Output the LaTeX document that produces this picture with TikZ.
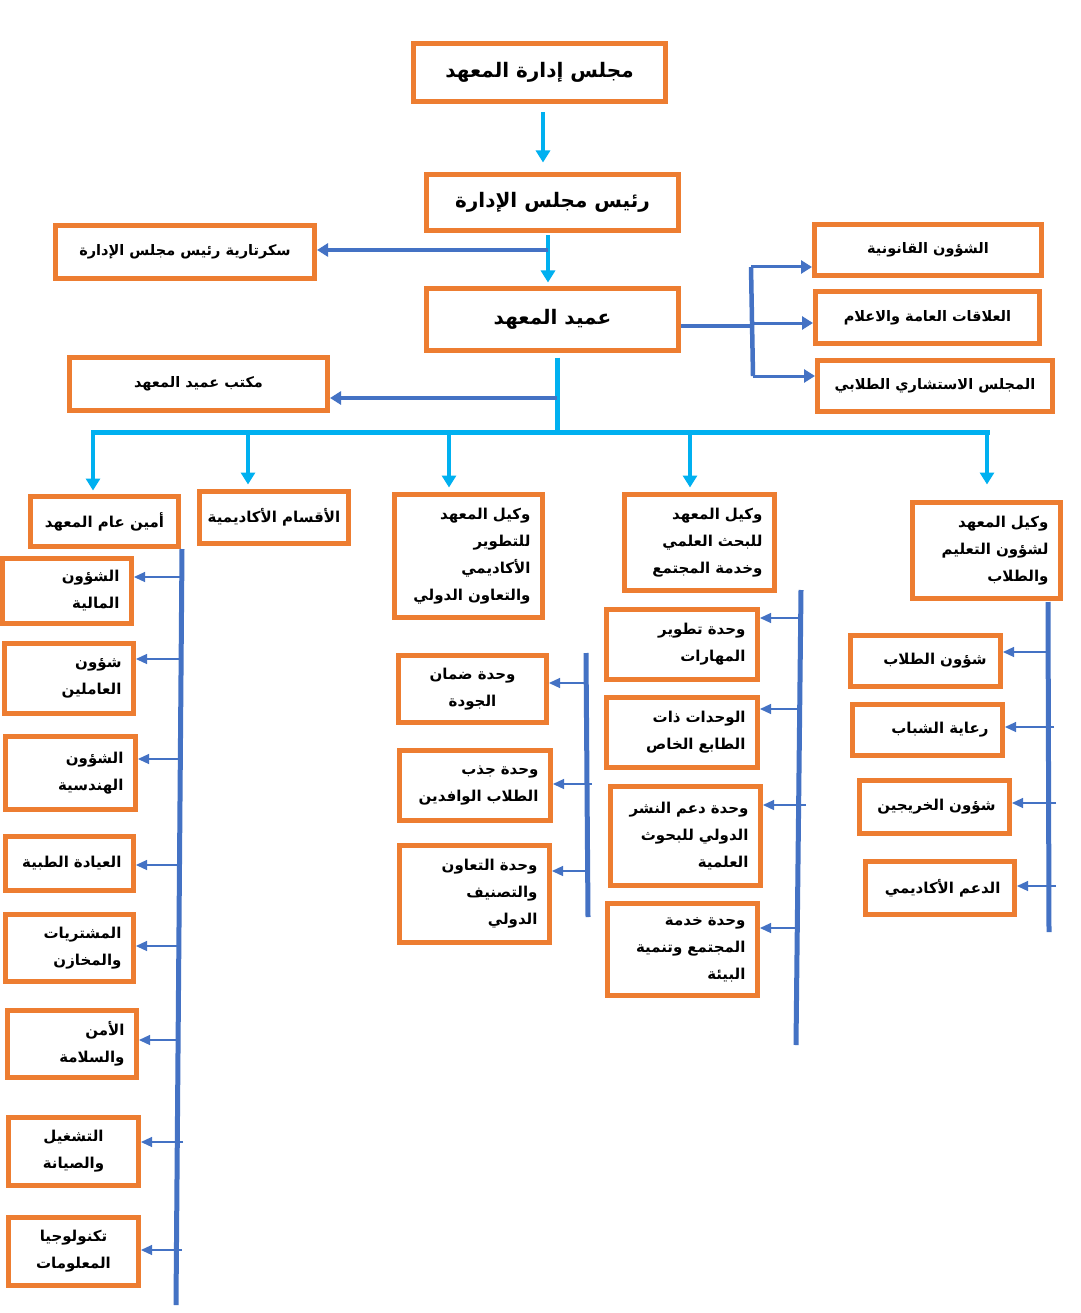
\documentclass[tikz,border=0pt]{standalone}
\usepackage{fontspec}
\newfontfamily\arabicfont[Script=Arabic]{DejaVu Sans}
\TeXXeTstate=1
\usetikzlibrary{arrows.meta}
\definecolor{org}{HTML}{ED7D31}
\definecolor{blu}{HTML}{4472C4}
\definecolor{cyn}{HTML}{00B0F0}
\newcommand\AR[1]{\beginR#1\endR}
\tikzset{
 ob/.style={draw=org, line width=5pt, fill=white, inner sep=0pt, font=\arabicfont\bfseries\fontsize{15}{27}\selectfont},
 big/.style={font=\arabicfont\bfseries\fontsize{20}{24}\selectfont},
 mid/.style={font=\arabicfont\bfseries\fontsize{14.5}{20}\selectfont},
 ra/.style={align=right, text width=#1},
 ca/.style={align=center},
 cyA/.style={draw=cyn, line width=4pt, -{Triangle[length=12pt,width=14pt]}},
 cyL/.style={draw=cyn, line width=5pt},
 blA/.style={draw=blu, line width=3.5pt, -{Triangle[length=11pt,width=13pt]}},
 blL/.style={draw=blu, line width=5pt},
 thA/.style={draw=blu, line width=1.2pt, -{Triangle[length=11pt,width=10pt]}},
}
\begin{document}
\begin{tikzpicture}[x=1pt,y=-1pt]
\useasboundingbox[fill=white] (0,0) rectangle (1080,1313);
% top level
\node[ob,big,minimum width=252,minimum height=58] (board) at (539.5,72.5) {\AR{مجلس إدارة المعهد}};
\node[ob,big,minimum width=252,minimum height=56] (chair) at (552.5,202.5) {\AR{رئيس مجلس الإدارة}};
\node[ob,mid,minimum width=259,minimum height=53] (sec) at (185,252) {\AR{سكرتارية رئيس مجلس الإدارة}};
\node[ob,big,minimum width=252,minimum height=62] (dean) at (552.5,319.5) {\AR{عميد المعهد}};
\node[ob,mid,minimum width=258,minimum height=53] (office) at (198.5,384) {\AR{مكتب عميد المعهد}};
\node[ob,mid,minimum width=227,minimum height=51] (legal) at (928,250) {\AR{الشؤون القانونية}};
\node[ob,mid,minimum width=224,minimum height=52] (pr) at (927.5,317.5) {\AR{العلاقات العامة والاعلام}};
\node[ob,mid,minimum width=235,minimum height=51] (council) at (935,386) {\AR{المجلس الاستشاري الطلابي}};
% second row
\node[ob,minimum width=148,minimum height=50] (sg) at (104.5,521.5) {\AR{أمين عام المعهد}};
\node[ob,minimum width=149,minimum height=52] (depts) at (274,517.5) {\AR{الأقسام الأكاديمية}};
\node[ob,ra=124,minimum width=148,minimum height=123] (vdev) at (468.5,556) {\AR{وكيل المعهد}\\\AR{للتطوير}\\\AR{الأكاديمي}\\\AR{والتعاون الدولي}};
\node[ob,ra=126,minimum width=150,minimum height=96] (vres) at (699.5,542.5) {\AR{وكيل المعهد}\\\AR{للبحث العلمي}\\\AR{وخدمة المجتمع}};
\node[ob,ra=124,minimum width=148,minimum height=96] (vstu) at (986.5,550.5) {\AR{وكيل المعهد}\\\AR{لشؤون التعليم}\\\AR{والطلاب}};
% left column
\node[ob,ra=105,minimum width=129,minimum height=65] (fin) at (67,591) {\AR{الشؤون}\\\AR{المالية}};
\node[ob,ra=105,minimum width=129,minimum height=70] (staff) at (69,678.5) {\AR{شؤون}\\\AR{العاملين}};
\node[ob,ra=106,minimum width=130,minimum height=73] (eng) at (70.5,773) {\AR{الشؤون}\\\AR{الهندسية}};
\node[ob,ra=104,minimum width=128,minimum height=54] (clinic) at (69.5,863.5) {\AR{العيادة الطبية}};
\node[ob,ra=104,minimum width=128,minimum height=67] (purch) at (69.5,948) {\AR{المشتريات}\\\AR{والمخازن}};
\node[ob,ra=105,minimum width=129,minimum height=67] (safety) at (72,1044) {\AR{الأمن}\\\AR{والسلامة}};
\node[ob,ca,minimum width=130,minimum height=68] (ops) at (73.5,1151.5) {\AR{التشغيل}\\\AR{والصيانة}};
\node[ob,ca,minimum width=130,minimum height=68] (it) at (73.5,1251.5) {\AR{تكنولوجيا}\\\AR{المعلومات}};
% middle column
\node[ob,ca,minimum width=148,minimum height=67] (qa) at (472.5,689) {\AR{وحدة ضمان}\\\AR{الجودة}};
\node[ob,ra=127,minimum width=151,minimum height=70] (intl) at (475,785.5) {\AR{وحدة جذب}\\\AR{الطلاب الوافدين}};
\node[ob,ra=126,minimum width=150,minimum height=97] (coop) at (474.5,894) {\AR{وحدة التعاون}\\\AR{والتصنيف}\\\AR{الدولي}};
% research column
\node[ob,ra=127,minimum width=151,minimum height=70] (skills) at (682,644.5) {\AR{وحدة تطوير}\\\AR{المهارات}};
\node[ob,ra=127,minimum width=151,minimum height=70] (special) at (682,732.5) {\AR{الوحدات ذات}\\\AR{الطابع الخاص}};
\node[ob,ra=126,minimum width=150,minimum height=99] (publ) at (685.5,836) {\AR{وحدة دعم النشر}\\\AR{الدولي للبحوث}\\\AR{العلمية}};
\node[ob,ra=126,minimum width=150,minimum height=92] (comm) at (682.5,949.5) {\AR{وحدة خدمة}\\\AR{المجتمع وتنمية}\\\AR{البيئة}};
% student column
\node[ob,ra=122,minimum width=150,minimum height=51] (saff) at (925.5,661) {\AR{شؤون الطلاب}};
\node[ob,ra=122,minimum width=150,minimum height=51] (youth) at (927.5,730) {\AR{رعاية الشباب}};
\node[ob,ra=122,minimum width=150,minimum height=53] (grad) at (934.5,807) {\AR{شؤون الخريجين}};
\node[ob,ra=121,minimum width=149,minimum height=53] (acad) at (940,888) {\AR{الدعم الأكاديمي}};

% ---- connectors, top
\draw[cyA, shorten <=8.5pt, shorten >=9.5pt] ([xshift=3.5pt]board.south) -- ([xshift=3.5pt]board.south |- chair.north);
\draw[cyA, shorten <=2.5pt, shorten >=3.5pt] ([xshift=-4.5pt]chair.south) -- ([xshift=-4.5pt]chair.south |- dean.north);
\coordinate (j1) at (548,250);
\draw[blA] (j1) -- (j1 -| sec.east);
% dean right branch
\coordinate (k) at (752,326);
\coordinate (km) at (752,323);
\coordinate (kt) at (751,267);
\coordinate (kb) at (753,376);
\draw[blu, line width=4.5pt] (dean.east |- k) -- (k);
\draw[blu, line width=4.5pt] (kt) -- (kb);
\draw[blA, line width=3pt] (kt) -- (kt -| legal.west);
\draw[blA, line width=3pt] (km) -- (km -| pr.west);
\draw[blA, line width=3pt] (kb) -- (kb -| council.west);
% dean down
\coordinate (d0) at (557,432);
\draw[cyL, shorten <=4.5pt] ([xshift=4.5pt]dean.south) -- (d0);
\coordinate (o1) at (557,398);
\draw[blA] (o1) -- (o1 -| office.east);
\coordinate (bl) at (93,432);
\coordinate (br) at (987,432);
\draw[cyL, line cap=rect] (bl) -- (br);
\coordinate (b2) at (248,432);
\coordinate (b3) at (449,432);
\coordinate (b4) at (690,432);
\draw[cyA, shorten >=3.5pt] (bl) -- (bl |- sg.north);
\draw[cyA, shorten >=4.5pt] (b2) -- (b2 |- depts.north);
\draw[cyA, shorten >=4.5pt] (b3) -- (b3 |- vdev.north);
\draw[cyA, shorten >=4.5pt] (b4) -- (b4 |- vres.north);
\draw[cyA, shorten >=15.5pt] (br) -- (br |- vstu.north);

% ---- spines
\coordinate (L0) at (182,549); \coordinate (L1) at (176,1305);
\coordinate (M0) at (586,653); \coordinate (M1) at (588,917);
\coordinate (R0) at (801,590); \coordinate (R1) at (796,1045);
\coordinate (S0) at (1048,602); \coordinate (S1) at (1049,932);
\draw[blL] (L0) -- (L1);
\draw[blL] (M0) -- (M1);
\draw[blL] (R0) -- (R1);
\draw[blL] (S0) -- (S1);

% left arrows
\coordinate (a1) at (182,577);
\coordinate (a2) at (181,659);
\coordinate (a3) at (180,759);
\coordinate (a4) at (180,865);
\coordinate (a5) at (179,946);
\coordinate (a6) at (178,1040);
\coordinate (a7) at (183,1142);
\coordinate (a8) at (182,1250);
\draw[thA] (a1) -- (a1 -| fin.east);
\draw[thA] (a2) -- (a2 -| staff.east);
\draw[thA] (a3) -- (a3 -| eng.east);
\draw[thA] (a4) -- (a4 -| clinic.east);
\draw[thA] (a5) -- (a5 -| purch.east);
\draw[thA] (a6) -- (a6 -| safety.east);
\draw[thA] (a7) -- (a7 -| ops.east);
\draw[thA] (a8) -- (a8 -| it.east);
% middle arrows
\coordinate (m1) at (586,683);
\coordinate (m2) at (592,784);
\coordinate (m3) at (587,871);
\draw[thA] (m1) -- (m1 -| qa.east);
\draw[thA] (m2) -- (m2 -| intl.east);
\draw[thA] (m3) -- (m3 -| coop.east);
% research arrows
\coordinate (r1) at (800,618);
\coordinate (r2) at (800,709);
\coordinate (r3) at (806,805);
\coordinate (r4) at (798,928);
\draw[thA] (r1) -- (r1 -| skills.east);
\draw[thA] (r2) -- (r2 -| special.east);
\draw[thA] (r3) -- (r3 -| publ.east);
\draw[thA] (r4) -- (r4 -| comm.east);
% student arrows
\coordinate (s1) at (1048,652);
\coordinate (s2) at (1054,727);
\coordinate (s3) at (1056,803);
\coordinate (s4) at (1056,886);
\draw[thA] (s1) -- (s1 -| saff.east);
\draw[thA] (s2) -- (s2 -| youth.east);
\draw[thA] (s3) -- (s3 -| grad.east);
\draw[thA] (s4) -- (s4 -| acad.east);
\end{tikzpicture}
\end{document}
